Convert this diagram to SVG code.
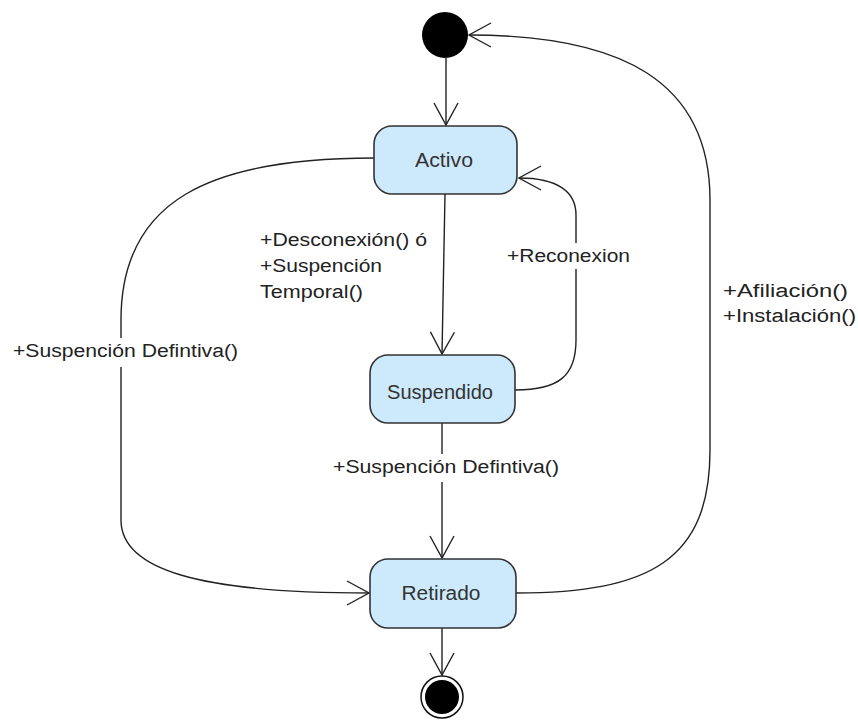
<svg xmlns="http://www.w3.org/2000/svg" width="858" height="721" viewBox="0 0 858 721">
  <style>
    .state rect { fill: #cdeafc; stroke: #333; stroke-width: 1.6; }
    .state text { font-family: "Liberation Sans", Arial, sans-serif; font-size: 20px; fill: #333; text-anchor: middle; }
    .edge { fill: none; stroke: #222; stroke-width: 1.4; marker-end: url(#open); }
    .lbl { font-family: "Liberation Sans", Arial, sans-serif; font-size: 18px; fill: #222; }
    .lblbg { fill: #fff; }
  </style>
  <defs>
    <marker id="open" markerUnits="userSpaceOnUse" markerWidth="30" markerHeight="30" viewBox="-26 -15 30 30" refX="0" refY="0" orient="auto">
      <path d="M-22,-12 L0,0 L-22,12" fill="none" stroke="#222" stroke-width="1.4"/>
    </marker>
  </defs>

  <rect width="858" height="721" fill="#fff"/>

  <!-- transitions -->
  <g id="connectors">
    <path class="edge" d="M446,58 L446,125"/>
    <path class="edge" d="M445,194 L442,354"/>
    <path class="edge" d="M442,423 L442,558"/>
    <path class="edge" d="M442,628 L442,675"/>
    <path class="edge" d="M374,158 C210,158 121,200 121,320 L121,520 C121,570 200,593 369,593"/>
    <path class="edge" d="M515,390 C560,390 576,375 576,340 L576,215 C576,192 558,178 519,178"/>
    <path class="edge" d="M516,593 C650,593 710,560 710,450 L710,200 C710,80 620,35 469,35"/>
  </g>

  <!-- transition labels -->
  <g id="labels">
    <rect class="lblbg" x="10" y="338" width="232" height="29"/>
    <text class="lbl" x="13" y="357" textLength="225" lengthAdjust="spacingAndGlyphs">+Suspención Defintiva()</text>
    <rect class="lblbg" x="330" y="454" width="233" height="28"/>
    <text class="lbl" x="333" y="473" textLength="226" lengthAdjust="spacingAndGlyphs">+Suspención Defintiva()</text>
    <rect class="lblbg" x="503" y="243" width="130" height="26"/>
    <text class="lbl" x="507" y="262" textLength="123" lengthAdjust="spacingAndGlyphs">+Reconexion</text>
    <text class="lbl" x="260" y="246" textLength="167" lengthAdjust="spacingAndGlyphs">+Desconexión() ó</text>
    <text class="lbl" x="260" y="272" textLength="122" lengthAdjust="spacingAndGlyphs">+Suspención</text>
    <text class="lbl" x="260" y="298" textLength="103" lengthAdjust="spacingAndGlyphs">Temporal()</text>
    <text class="lbl" x="723" y="297" textLength="125" lengthAdjust="spacingAndGlyphs">+Afiliación()</text>
    <text class="lbl" x="723" y="322" textLength="133" lengthAdjust="spacingAndGlyphs">+Instalación()</text>
  </g>

  <!-- states -->
  <g id="initial">
    <circle cx="445" cy="35" r="23" fill="#000"/>
  </g>
  <g id="activo" class="state">
    <rect x="374" y="126" width="143" height="68" rx="18"/>
    <text x="444" y="167" textLength="58" lengthAdjust="spacingAndGlyphs">Activo</text>
  </g>
  <g id="suspendido" class="state">
    <rect x="370" y="355" width="145" height="68" rx="18"/>
    <text x="440" y="399" textLength="106" lengthAdjust="spacingAndGlyphs">Suspendido</text>
  </g>
  <g id="retirado" class="state">
    <rect x="370" y="559" width="146" height="69" rx="18"/>
    <text x="441" y="600" textLength="79" lengthAdjust="spacingAndGlyphs">Retirado</text>
  </g>
  <g id="final">
    <circle cx="442" cy="697" r="21" fill="#fff" stroke="#111" stroke-width="1.5"/>
    <circle cx="442" cy="697" r="17" fill="#000"/>
  </g>
</svg>
